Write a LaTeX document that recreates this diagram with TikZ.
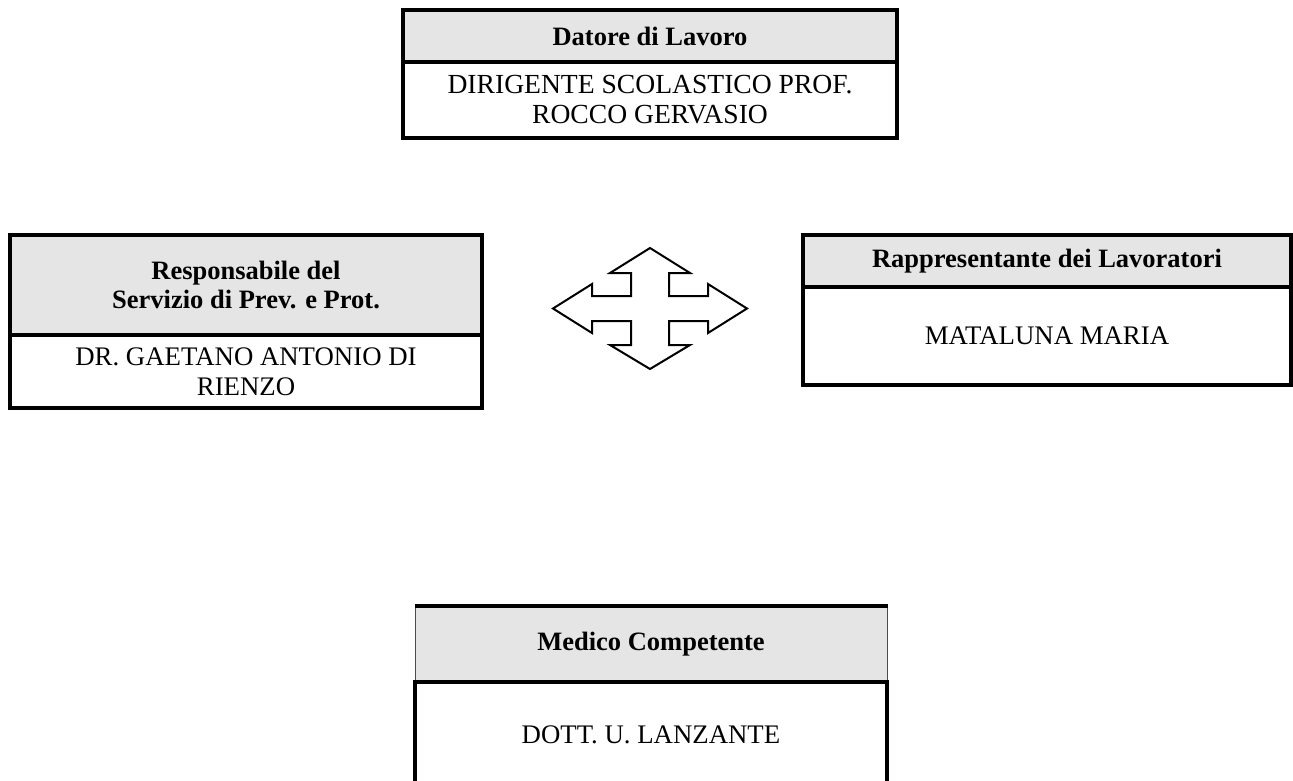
\documentclass[tikz,border=0pt]{standalone}
\usepackage{fontspec}
\setmainfont{Liberation Serif}
\usepackage{tikz}

\begin{document}
\begin{tikzpicture}[x=1pt,y=-1pt,
    testa/.style={draw,line width=4pt,fill=black!10,align=center,
        font=\fontsize{26.5}{29}\selectfont\bfseries},
    corpo/.style={draw,line width=4pt,align=center,
        font=\fontsize{26.8}{30}\selectfont}]
    \useasboundingbox (0,0) rectangle (1293,780);

    % datore di lavoro
    \node[testa,minimum width=494,minimum height=52] (datore) at (650,36) {Datore di Lavoro};
    \node[corpo,font=\fontsize{27.6}{30}\selectfont,minimum width=494,minimum height=76] (dirigente) at (650,100) {DIRIGENTE SCOLASTICO PROF.\\ROCCO GERVASIO};

    % rspp
    \node[testa,minimum width=472,minimum height=100] (rspp) at (246,285) {Responsabile del\\Servizio di Prev. e Prot.};
    \node[corpo,minimum width=472,minimum height=73] (direnzo) at (246,371.5) {DR. GAETANO ANTONIO DI\\RIENZO};

    % rls
    \node[testa,minimum width=488,minimum height=52] (rls) at (1047,261) {Rappresentante dei Lavoratori};
    \node[corpo,minimum width=488,minimum height=98] (mataluna) at (1047,336) {MATALUNA MARIA};

    % medico
    \node[testa,line width=1pt,draw=black!70,minimum width=472,minimum height=76] (medico) at (651,644) {Medico Competente};
    \draw[line width=4pt] (medico.north west) -- (medico.north east);
    \node[corpo,minimum width=472,minimum height=106] (lanzante) at (651,735) {DOTT. U. LANZANTE};

    \draw[line width=2pt,line join=miter]
        (650,248) -- (690,273) -- (669,273) -- (669,296) -- (708,296) -- (708,284)
        -- (747,308.5) -- (708,333) -- (708,321) -- (669,321) -- (669,345) -- (690,345)
        -- (650,369) -- (610,345) -- (631,345) -- (631,321) -- (592,321) -- (592,333)
        -- (553,308.5) -- (592,284) -- (592,296) -- (631,296) -- (631,273) -- (610,273) -- cycle;
\end{tikzpicture}
\end{document}
